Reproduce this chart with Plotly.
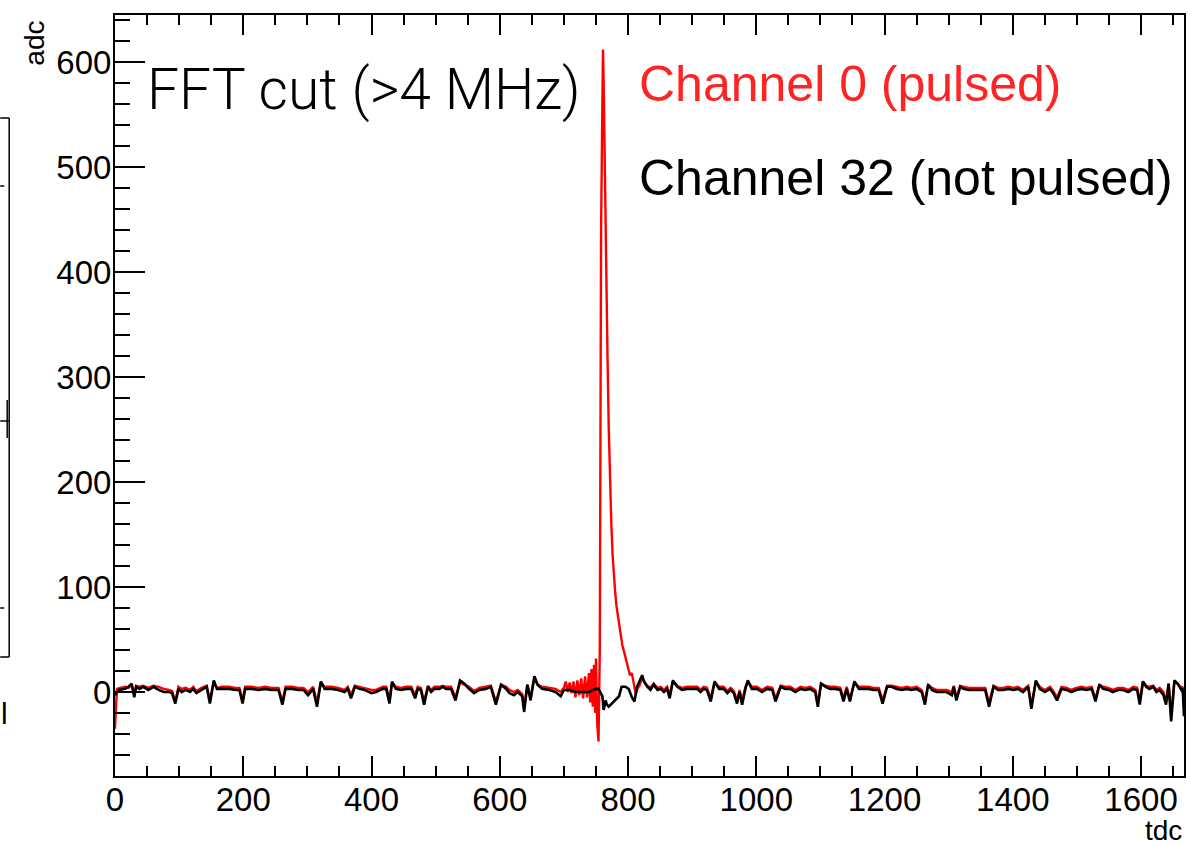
import plotly.graph_objects as go

# ---------------- data ----------------
black_tdc = [0, 6, 16, 21, 26, 30, 33, 38, 44, 52, 60, 68, 76, 84, 89, 94, 99, 104, 110, 117, 122, 127, 135, 143, 148, 154,
             159, 167, 178, 188, 194, 199, 203, 213, 224, 234, 244, 255, 261, 266, 276, 286, 294, 301, 309, 315, 321, 327,
             338, 348, 358, 363, 368, 374, 381, 389, 400, 407, 418, 423, 428, 432, 438, 446, 454, 462, 468, 472, 477, 482,
             488, 493, 498, 506, 511, 516, 524, 531, 538, 545, 552, 560, 568, 578, 586, 594, 602, 610, 615, 622, 628, 635,
             638, 643, 648, 654, 659, 666, 677, 687, 695, 700, 708, 718, 729, 739, 750, 754, 760, 762, 765, 767, 770, 775,
             780, 786, 790, 796, 801, 806, 810, 814, 822, 825, 830, 835, 840, 846, 851, 856, 861, 865, 870, 877, 884, 892,
             900, 908, 913, 918, 923, 929, 935, 942, 949, 955, 960, 965, 970, 974, 978, 983, 987, 993, 1001, 1009, 1017,
             1025, 1030, 1038, 1045, 1053, 1061, 1069, 1076, 1084, 1092, 1096, 1101, 1108, 1115, 1123, 1131, 1136, 1141,
             1146, 1153, 1160, 1167, 1175, 1183, 1191, 1197, 1204, 1211, 1219, 1227, 1235, 1242, 1250, 1258, 1263, 1268,
             1274, 1281, 1289, 1297, 1305, 1308, 1312, 1318, 1323, 1331, 1338, 1346, 1357, 1363, 1370, 1377, 1385, 1393,
             1401, 1408, 1416, 1424, 1429, 1436, 1442, 1450, 1458, 1463, 1469, 1476, 1484, 1491, 1499, 1507, 1515, 1523,
             1529, 1535, 1541, 1549, 1556, 1564, 1572, 1580, 1588, 1594, 1598, 1603, 1608, 1613, 1619, 1624, 1629, 1635,
             1639, 1643, 1647, 1652, 1657, 1663, 1665, 1667]
black_adc = [-3, 2, 3, 5, 8, -5, 5, 3, 5, 2, 5, 2, 0, 0, -1, -11, 3, 0, 2, 0, 3, -1, 2, 5, -11, 11,
             3, 3, 3, 2, 2, -11, 3, 3, 2, 3, 2, 2, -12, 3, 3, 2, 2, -3, 3, -14, 10, 3,
             3, 2, 0, 3, -6, 5, 3, 2, -1, 0, 3, 3, -11, 10, 3, 2, 3, 3, -6, 3, 2, -12,
             5, 0, 3, 3, 5, 3, 3, -8, 11, 8, 3, -1, 2, 3, 5, -12, 7, 3, -1, -3, 0, -4,
             -19, 7, -8, 15, 7, 3, 2, 0, -4, 2, 2, 0, 0, 0, 3, 3, -4, -17, -8, -12, -14, -11,
             -8, -4, 5, 5, 3, -5, -9, 5, 16, 10, 5, 2, 7, 2, 3, 0, 3, -6, 11, 5, 2, 3,
             3, 3, 0, 3, 2, -9, 10, 3, 3, -1, 2, -1, -11, 0, -12, 3, 11, 3, 3, 0, 3,
             2, -9, 5, 3, 3, 0, 3, 2, 3, 0, -14, 8, 5, 3, 3, 2, -9, 3,
             -9, 10, 3, 3, 3, 2, 2, -11, 5, 5, 3, 2, 3, 2, 3, 0, -12, 7,
             2, 0, 0, 0, -3, 5, -8, 5, 3, 2, 2, 2, 2, -14, 5, 2, 2, 3,
             2, 3, 0, 5, -16, 11, 3, 0, 3, -1, -8, 3, 2, 0, 2, 3, 2, 3,
             -9, 7, 3, 2, 0, 2, 2, 0, 3, 2, -12, 10, 5, 3, 5, 0, 2, -3,
             -12, 8, -28, 11, 8, 2, 3, -23]

red_tdc = [0, 3, 8, 16, 21, 26, 30, 33, 38, 44, 52, 60, 68, 76, 84, 89, 94, 99, 104, 110, 117, 122, 127, 135, 143, 148,
           154, 159, 167, 178, 188, 194, 199, 203, 213, 224, 234, 244, 255, 261, 266, 276, 286, 294, 301, 309, 315, 321,
           327, 338, 348, 358, 363, 368, 374, 381, 389, 400, 407, 418, 423, 428, 432, 438, 446, 454, 462, 468, 472, 477,
           482, 488, 493, 498, 506, 511, 516, 524, 531, 538, 545, 552, 560, 568, 578, 586, 594, 602, 610, 615, 622, 628,
           635, 638, 643, 648, 654, 659, 666, 677, 687, 695, 700, 703, 706, 709, 712, 715, 718, 721, 724, 727, 730, 733,
           736, 739, 741, 743, 745, 747, 749, 750, 752, 754, 756, 757, 758, 760, 761, 762, 763, 764, 765, 766, 768, 770,
           772, 774, 776, 778, 780, 782, 785, 788, 791, 794, 797, 800, 803, 806, 809, 812, 815, 818, 822, 825, 830, 835,
           840, 846, 851, 856, 861, 865, 870, 877, 884, 892, 900, 908, 913, 918, 923, 929, 935, 942, 949, 955, 960, 965,
           970, 974, 978, 983, 987, 993, 1001, 1009, 1017, 1025, 1030, 1038, 1045, 1053, 1061, 1069, 1076, 1084, 1092,
           1096, 1101, 1108, 1115, 1123, 1131, 1136, 1141, 1146, 1153, 1160, 1167, 1175, 1183, 1191, 1197, 1204, 1211,
           1219, 1227, 1235, 1242, 1250, 1258, 1263, 1268, 1274, 1281, 1289, 1297, 1305, 1308, 1312, 1318, 1323, 1331,
           1338, 1346, 1357, 1363, 1370, 1377, 1385, 1393, 1401, 1408, 1416, 1424, 1429, 1436, 1442, 1450, 1458, 1463,
           1469, 1476, 1484, 1491, 1499, 1507, 1515, 1523, 1529, 1535, 1541, 1549, 1556, 1564, 1572, 1580, 1588, 1594,
           1598, 1603, 1608, 1613, 1619, 1624, 1629, 1635, 1639, 1643, 1647, 1652, 1657, 1663, 1665, 1667]
red_adc = [-35, 3, 4, 5, 4, 7, -3, 6, 5, 6, 4, 6, 5, 3, 2, 1, -9, 5, 3, 4, 2, 5, 1, 4, 6, -8,
           9, 4, 5, 5, 4, 4, -8, 5, 5, 4, 5, 4, 4, -9, 5, 5, 4, 4, 0, 5, -10, 9,
           5, 5, 4, 2, 5, -3, 6, 5, 4, 2, 2, 5, 5, -8, 9, 5, 4, 5, 5, -3, 5, 4,
           -9, 6, 2, 5, 5, 6, 5, 5, -5, 9, 7, 5, 1, 4, 5, 6, -9, 7, 5, 2, 0, 2,
           -2, -15, 7, -5, 13, 7, 5, 4, 3, 0, 4, 10, 0, 9, -1, 10, -5, 11, -3, 13, -6, 15,
           -5, 18, -10, 22, -14, 26, -20, 32, -30, -47, 40, 240, 440, 560, 612, 580, 530, 480, 430, 385, 320, 250,
           200, 160, 130, 110, 95, 82, 68, 56, 45, 38, 30, 22, 16, 18, 8, -2, 4, 6, 14, 10, 6, 4,
           8, 4, 5, 2, 5, -3, 10, 6, 4, 5, 5, 5, 2, 5, 4, -6, 9, 5, 5, 1, 4, 1,
           -8, 2, -9, 5, 10, 5, 5, 2, 5, 4, -6, 6, 5, 5, 2, 5, 4, 5, 2,
           -11, 8, 6, 5, 5, 4, -6, 5, -7, 9, 5, 5, 5, 4, 4, -8, 6, 6,
           5, 4, 5, 4, 5, 2, -9, 7, 4, 2, 2, 2, 0, 6, -5, 6, 5, 4,
           4, 4, 4, -10, 6, 4, 4, 5, 4, 5, 2, 6, -12, 10, 5, 2, 5, 1,
           -5, 5, 4, 2, 4, 5, 4, 5, -6, 7, 5, 4, 2, 4, 4, 2, 5, 4,
           -9, 10, 6, 5, 6, 2, 4, 0, -9, 8, -22, 10, 8, 4, 5, -15]

x_ticks = [0, 200, 400, 600, 800, 1000, 1200, 1400, 1600]
y_ticks = [0, 100, 200, 300, 400, 500, 600]

# ---------------- figure ----------------
W, H = 1190, 846
L, R, T, B = 115, 4, 15, 70
PW, PH = W - L - R, H - T - B


def px(x):
    return (x - L) / PW


def py(y):
    return (H - B - y) / PH


FONT = "Liberation Sans, Arial, Helvetica, sans-serif"

fig = go.Figure()
fig.add_trace(go.Scatter(x=red_tdc, y=red_adc, mode="lines",
                         line=dict(color="#ff0000", width=2.4), hoverinfo="skip"))
fig.add_trace(go.Scatter(x=black_tdc, y=black_adc, mode="lines",
                         line=dict(color="#000000", width=2.6), hoverinfo="skip"))

axis_common = dict(showgrid=False, zeroline=False, showline=True, linecolor="black", linewidth=2,
                   ticks="inside", tickcolor="black", tickwidth=1.5,
                   tickfont=dict(family=FONT, size=33, color="black"))

fig.update_layout(
    width=W, height=H,
    margin=dict(l=L, r=R, t=T, b=B, pad=0),
    paper_bgcolor="white", plot_bgcolor="white",
    showlegend=False,
    xaxis=dict(range=[0, 1667], tickvals=x_ticks, ticklen=20, mirror="ticks", ticklabelstandoff=-7,
               minor=dict(dtick=50, tick0=0, ticks="inside", ticklen=10, tickcolor="black", tickwidth=1.5),
               **axis_common),
    yaxis=dict(range=[-80, 645], tickvals=y_ticks, ticklen=30, mirror=True, ticklabelstandoff=-5,
               minor=dict(dtick=20, tick0=0, ticks="inside", ticklen=15, tickcolor="black", tickwidth=1.5),
               **axis_common),
)

annotations = [
    dict(text="adc", x=px(34), y=py(19), xanchor="center", yanchor="top", textangle=-90,
         font=dict(family=FONT, size=28, color="black")),
    dict(text="tdc", x=1.0, y=py(848), xanchor="right", yanchor="bottom",
         font=dict(family=FONT, size=28, color="black")),
    dict(text="FFT cut (>4 MHz)", x=px(145), y=py(89), xanchor="left", yanchor="middle",
         font=dict(family="Roboto, Liberation Sans, sans-serif", size=57, color="black", weight=300)),
    dict(text="Channel 0 (pulsed)", x=px(638), y=py(84), xanchor="left", yanchor="middle",
         font=dict(family=FONT, size=50, color="#ff2424")),
    dict(text="Channel 32 (not pulsed)", x=px(638), y=py(178), xanchor="left", yanchor="middle",
         font=dict(family=FONT, size=50, color="black")),
    dict(text="l", x=px(4), y=py(713), xanchor="center", yanchor="middle",
         font=dict(family=FONT, size=30, color="black")),
]
for a in annotations:
    a.update(xref="paper", yref="paper", showarrow=False)
fig.update_layout(annotations=annotations)

# fragment of the neighbouring pad at the left edge
shapes = []
seg = [((0, 118), (9, 118)), ((9, 118), (9, 657)), ((0, 657), (9, 657)),
       ((0, 186), (4, 186)), ((0, 608), (4, 608)),
       ((0, 421), (9, 421)), ((7, 400), (7, 438))]
for (x0, y0), (x1, y1) in seg:
    shapes.append(dict(type="line", xref="paper", yref="paper",
                       x0=px(x0), y0=py(y0), x1=px(x1), y1=py(y1),
                       line=dict(color="black", width=1.5)))
fig.update_layout(shapes=shapes)

fig.write_html("out.html")
